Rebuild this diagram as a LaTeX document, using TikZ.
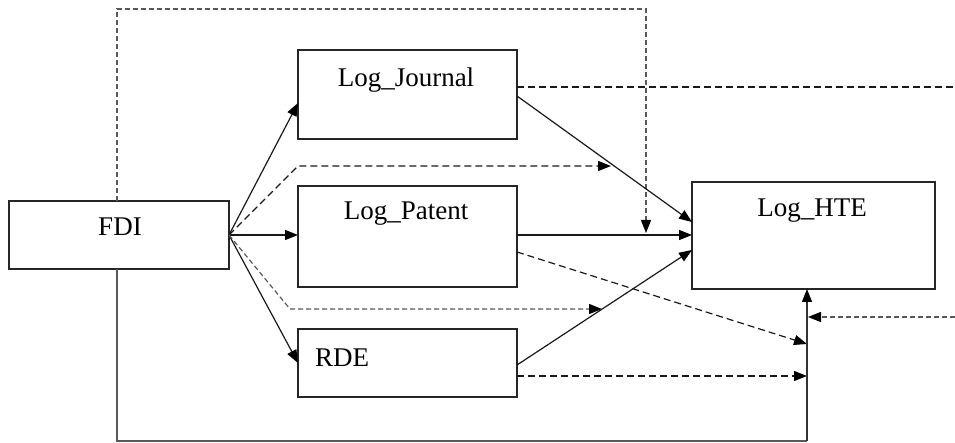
\documentclass[tikz,border=0pt]{standalone}
\usepackage{fontspec}
\setmainfont{Liberation Serif}
\usetikzlibrary{arrows.meta}
\begin{document}
\begin{tikzpicture}[x=1pt,y=-1pt,
  box/.style={draw=black!85,line width=1.2pt,rectangle,inner sep=0pt,outer sep=0pt},
  lbl/.style={inner sep=0pt,anchor=base,font=\fontsize{27}{32}\selectfont},
  tip/.style={-{Triangle[length=13pt,width=10pt,fill=black,color=black]}},
  solidl/.style={line width=1.2pt,black!90},
  dashl/.style={line width=1.2pt,black!90,dash pattern=on 7pt off 4pt},
  faintdash/.style={line width=1.2pt,black!65,dash pattern=on 5pt off 3pt},
  faintsolid/.style={line width=1.2pt,black!65}]
\useasboundingbox (0,0) rectangle (955,443);
% boxes
\node[box,minimum width=220pt,minimum height=68pt] (FDI) at (119,235) {};
\node[box,minimum width=219pt,minimum height=89pt] (LJ) at (407.5,94.5) {};
\node[box,minimum width=219pt,minimum height=101pt] (LP) at (407.5,236.5) {};
\node[box,minimum width=219pt,minimum height=68pt] (RDE) at (407.5,363) {};
\node[box,minimum width=243pt,minimum height=107pt] (HTE) at (813.5,235.5) {};
% labels
\node[lbl] (tFDI) at (120,236) {FDI};
\node[lbl] (tLJ) at (406,87) {Log\_Journal};
\node[lbl] (tLP) at (406,220) {Log\_Patent};
\node[lbl,anchor=base west] (tRDE) at (315,366) {RDE};
\node[lbl] (tHTE) at (812,217) {Log\_HTE};
% coordinates
\coordinate (fdiE) at (229,235);
\coordinate (topL) at (117,9);
\coordinate (topR) at (646,9);
\coordinate (topEnd) at (646,233);
\coordinate (ljOutS) at (517,87);
\coordinate (ljOut) at (955,87);
\coordinate (ljS) at (517,96);
\coordinate (hteA) at (692,222);
\coordinate (ljIn) at (298,103);
\coordinate (lpIn) at (298,235);
\coordinate (rdeIn) at (298,363);
\coordinate (dU1) at (298,166);
\coordinate (dU2) at (611,166);
\coordinate (dL1) at (290,309);
\coordinate (dL2) at (602,309);
\coordinate (lpS) at (517,235);
\coordinate (hteB) at (692,235);
\coordinate (lpD) at (517,252);
\coordinate (vA) at (807,344);
\coordinate (rdeS) at (517,365);
\coordinate (hteC) at (692,250);
\coordinate (rdeD) at (517,376);
\coordinate (vB) at (807,376);
\coordinate (botL) at (117,441);
\coordinate (botR) at (807,441);
\coordinate (rIn) at (955,317);
\coordinate (vC) at (808,317);
% connectors
\draw[faintdash,tip] (FDI.north -| topL) -- (topL) -- (topR) -- (topEnd);
\draw[dashl] (ljOutS) -- (ljOut);
\draw[solidl,tip] (ljS) -- (hteA);
\draw[solidl,tip] (fdiE) -- (ljIn);
\draw[solidl,tip] (fdiE) -- (lpIn);
\draw[solidl,tip] (fdiE) -- (rdeIn);
\draw[dashl,tip] (fdiE) -- (dU1) -- (dU2);
\draw[faintdash,tip] (fdiE) -- (dL1) -- (dL2);
\draw[solidl,tip] (lpS) -- (hteB);
\draw[dashl,tip] (lpD) -- (vA);
\draw[solidl,tip] (rdeS) -- (hteC);
\draw[dashl,tip] (rdeD) -- (vB);
\draw[faintsolid] (FDI.south -| botL) -- (botL) -- (botR);
\draw[solidl,black!80,tip] (botR) -- (HTE.south -| botR);
\draw[faintdash,tip] (rIn) -- (vC);
\end{tikzpicture}
\end{document}
